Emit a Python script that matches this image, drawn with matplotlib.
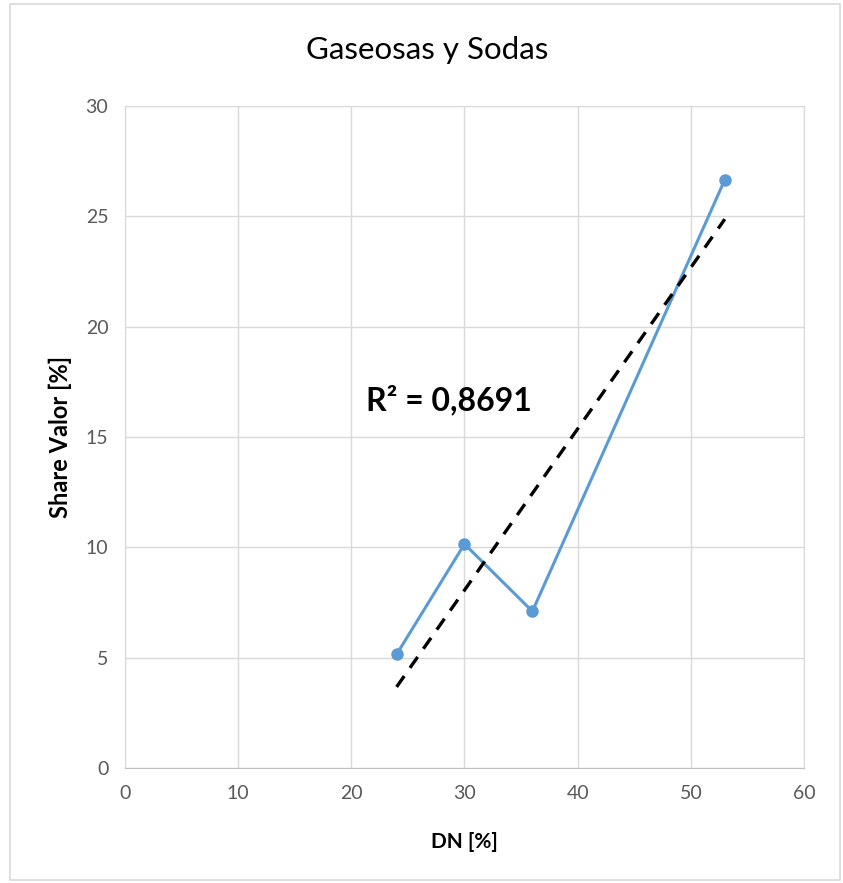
import matplotlib.pyplot as plt
from matplotlib.patches import Rectangle
import numpy as np

# data
dn = [24, 30, 36, 53]
share = [5.15, 10.15, 7.1, 26.65]
r2_label = "R² = 0,8691"

plt.rcParams['font.family'] = ['Liberation Sans Narrow', 'Lato', 'DejaVu Sans']

fig = plt.figure(figsize=(8.43, 8.83), dpi=100)
ax = fig.add_axes([0.1483, 0.1302, 0.8054, 0.7498])

# outer chart border
fig.patches.append(Rectangle((0.012, 0.003), 0.985, 0.993, transform=fig.transFigure,
                             fill=False, ec='#D9D9D9', lw=1.2))

ax.plot(dn, share, color='#5B9BD5', lw=2.2, marker='o', ms=8,
        mfc='#5B9BD5', mec='#5B9BD5', zorder=3)

# linear trendline
k, b = np.polyfit(dn, share, 1)
xt = np.array([min(dn), max(dn)])
ax.plot(xt, k * xt + b, color='black', lw=2.4, ls=(0, (4, 3)), zorder=4)

ax.text(21.3, 16.7, r2_label, fontsize=23, fontweight='bold', va='center', ha='left')

ax.set_xlim(0, 60)
ax.set_ylim(0, 30)
ax.set_xticks(range(0, 61, 10))
ax.set_yticks(range(0, 31, 5))
ax.grid(True, color='#D9D9D9', lw=1)
ax.set_axisbelow(True)
for s in ax.spines.values():
    s.set_color('#D9D9D9')
ax.spines['bottom'].set_color('#BFBFBF')
ax.tick_params(length=0, labelsize=14, labelcolor='#595959', pad=12)

ax.set_xlabel('DN [%]', fontsize=15, fontweight='bold', labelpad=22)
ax.set_ylabel('Share Valor [%]', fontsize=17, fontweight='bold', labelpad=10)
fig.text(0.507, 0.943, 'Gaseosas y Sodas', ha='center', va='center', fontsize=22.5)

fig.savefig('out.png', dpi=100)
